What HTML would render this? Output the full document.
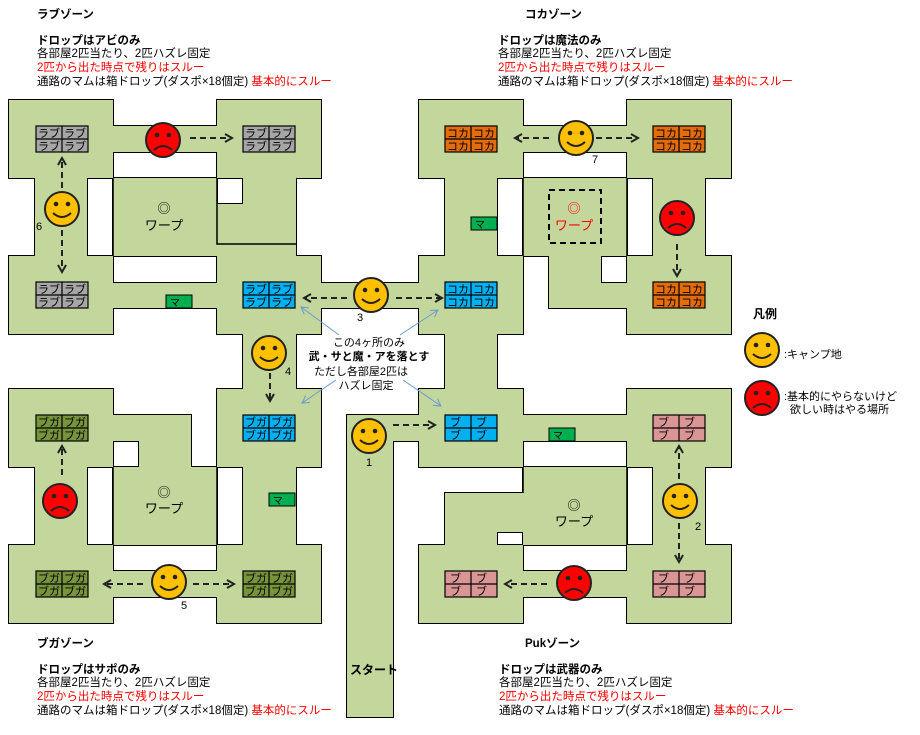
<!DOCTYPE html>
<html><head><meta charset="utf-8"><style>
body{margin:0;background:#fff;}
svg text{font-family:"Liberation Sans","Noto Sans CJK JP",sans-serif;}
</style></head><body>
<svg width="920" height="730" viewBox="0 0 920 730" xmlns="http://www.w3.org/2000/svg">
<defs>
<g id="happy"><circle r="17" fill="#ffc000" stroke="#222" stroke-width="2"/><circle cx="-6" cy="-5" r="2.3" fill="#222"/><circle cx="6" cy="-5" r="2.3" fill="#222"/><path d="M-9,4 Q0,12 9,4" fill="none" stroke="#222" stroke-width="2"/></g>
<g id="sad"><circle r="17" fill="#ff0000" stroke="#222" stroke-width="2"/><circle cx="-6" cy="-5" r="2.3" fill="#222"/><circle cx="6" cy="-5" r="2.3" fill="#222"/><path d="M-9,10 Q0,2 9,10" fill="none" stroke="#222" stroke-width="2"/></g>
<marker id="ah" markerWidth="10" markerHeight="10" refX="8" refY="5" orient="auto" markerUnits="userSpaceOnUse"><path d="M1,1 L8,5 L1,9" fill="none" stroke="#222" stroke-width="2"/></marker>
<marker id="bh" markerWidth="10" markerHeight="10" refX="8" refY="5" orient="auto" markerUnits="userSpaceOnUse"><path d="M1,1 L8,5 L1,9" fill="none" stroke="#6a9ad0" stroke-width="1"/></marker>
</defs>
<g id="rooms">
<g stroke="#000" stroke-width="2" fill="#c3d69b">
<rect x="9" y="100" width="104" height="78"/><rect x="113" y="126" width="104" height="26"/><rect x="217" y="100" width="104" height="78"/><rect x="35" y="178" width="52" height="78"/><rect x="9" y="256" width="104" height="78"/><rect x="113" y="178" width="104" height="78"/><rect x="243" y="178" width="53" height="26"/><rect x="217" y="204" width="79" height="52"/><rect x="113" y="283" width="104" height="25"/><rect x="217" y="256" width="104" height="78"/>
<rect x="243" y="334" width="53" height="55"/>
<rect x="9" y="389" width="104" height="78"/><rect x="113" y="415" width="78" height="26"/><rect x="139" y="441" width="52" height="26"/><rect x="35" y="467" width="52" height="78"/><rect x="113" y="467" width="104" height="78"/><rect x="217" y="389" width="104" height="78"/><rect x="243" y="467" width="53" height="78"/><rect x="217" y="545" width="104" height="78"/><rect x="9" y="545" width="104" height="78"/><rect x="113" y="571" width="104" height="26"/>
<rect x="347" y="415" width="72" height="26"/><rect x="347" y="415" width="46" height="302"/>
<rect x="419" y="100" width="104" height="78"/><rect x="523" y="126" width="104" height="26"/><rect x="627" y="100" width="104" height="78"/><rect x="445" y="178" width="52" height="78"/><rect x="523" y="178" width="104" height="78"/><rect x="653" y="178" width="52" height="78"/><rect x="419" y="256" width="104" height="78"/><rect x="549" y="256" width="52" height="52"/><rect x="549" y="283" width="78" height="25"/><rect x="627" y="256" width="104" height="78"/><rect x="321" y="283" width="98" height="25"/><rect x="445" y="334" width="52" height="55"/>
<rect x="419" y="389" width="104" height="78"/><rect x="523" y="415" width="104" height="26"/><rect x="627" y="389" width="104" height="78"/><rect x="653" y="467" width="52" height="78"/><rect x="523" y="467" width="104" height="26"/><rect x="445" y="493" width="182" height="39"/><rect x="445" y="532" width="52" height="13"/><rect x="523" y="532" width="104" height="13"/><rect x="419" y="545" width="104" height="78"/><rect x="523" y="571" width="104" height="26"/><rect x="627" y="545" width="104" height="78"/>
</g>
</g>
<g fill="#c3d69b">
<rect x="9" y="100" width="104" height="78"/><rect x="113" y="126" width="104" height="26"/><rect x="217" y="100" width="104" height="78"/><rect x="35" y="178" width="52" height="78"/><rect x="9" y="256" width="104" height="78"/><rect x="113" y="178" width="104" height="78"/><rect x="243" y="178" width="53" height="26"/><rect x="217" y="204" width="79" height="52"/><rect x="113" y="283" width="104" height="25"/><rect x="217" y="256" width="104" height="78"/>
<rect x="243" y="334" width="53" height="55"/>
<rect x="9" y="389" width="104" height="78"/><rect x="113" y="415" width="78" height="26"/><rect x="139" y="441" width="52" height="26"/><rect x="35" y="467" width="52" height="78"/><rect x="113" y="467" width="104" height="78"/><rect x="217" y="389" width="104" height="78"/><rect x="243" y="467" width="53" height="78"/><rect x="217" y="545" width="104" height="78"/><rect x="9" y="545" width="104" height="78"/><rect x="113" y="571" width="104" height="26"/>
<rect x="347" y="415" width="72" height="26"/><rect x="347" y="415" width="46" height="302"/>
<rect x="419" y="100" width="104" height="78"/><rect x="523" y="126" width="104" height="26"/><rect x="627" y="100" width="104" height="78"/><rect x="445" y="178" width="52" height="78"/><rect x="523" y="178" width="104" height="78"/><rect x="653" y="178" width="52" height="78"/><rect x="419" y="256" width="104" height="78"/><rect x="549" y="256" width="52" height="52"/><rect x="549" y="283" width="78" height="25"/><rect x="627" y="256" width="104" height="78"/><rect x="321" y="283" width="98" height="25"/><rect x="445" y="334" width="52" height="55"/>
<rect x="419" y="389" width="104" height="78"/><rect x="523" y="415" width="104" height="26"/><rect x="627" y="389" width="104" height="78"/><rect x="653" y="467" width="52" height="78"/><rect x="523" y="467" width="104" height="26"/><rect x="445" y="493" width="182" height="39"/><rect x="445" y="532" width="52" height="13"/><rect x="523" y="532" width="104" height="13"/><rect x="419" y="545" width="104" height="78"/><rect x="523" y="571" width="104" height="26"/><rect x="627" y="545" width="104" height="78"/>
</g>
<!-- interior lines -->
<g stroke="#000" stroke-width="1.5" fill="none">
<path d="M113,178V256M217,178V244H296M113,467V545M217,467V545M523,178V256M627,178V256M523,467V493M627,467V545"/>
</g>
<!-- boxes -->
<g stroke="#000" stroke-width="1.2" font-size="11">
<g fill="#a6a6a6"><rect x="36" y="126" width="52" height="26"/><rect x="243" y="126" width="52" height="26"/><rect x="36" y="282" width="52" height="26"/></g>
<g fill="#00b0f0"><rect x="243" y="282" width="52" height="26"/><rect x="445" y="282" width="52" height="26"/><rect x="243" y="415" width="52" height="26"/><rect x="445" y="415" width="52" height="26"/></g>
<g fill="#e46c0a"><rect x="445" y="126" width="52" height="26"/><rect x="653" y="126" width="52" height="26"/><rect x="653" y="282" width="52" height="26"/></g>
<g fill="#77933c"><rect x="36" y="415" width="52" height="26"/><rect x="36" y="571" width="52" height="26"/><rect x="243" y="571" width="52" height="26"/></g>
<g fill="#da9694"><rect x="653" y="415" width="52" height="26"/><rect x="445" y="571" width="52" height="26"/><rect x="653" y="571" width="52" height="26"/></g>
<path d="M62,126V152M36,139H88M269,126V152M243,139H295M62,282V308M36,295H88M269,282V308M243,295H295M471,282V308M445,295H497M269,415V441M243,428H295M471,415V441M445,428H497M471,126V152M445,139H497M679,126V152M653,139H705M679,282V308M653,295H705M62,415V441M36,428H88M62,571V597M36,584H88M269,571V597M243,584H295M679,415V441M653,428H705M471,571V597M445,584H497M679,571V597M653,584H705"/>
</g>
<g font-size="11" fill="#000">
<text x="38" y="137">ラブ</text><text x="64" y="137">ラブ</text><text x="38" y="150">ラブ</text><text x="64" y="150">ラブ</text>
<text x="245" y="137">ラブ</text><text x="271" y="137">ラブ</text><text x="245" y="150">ラブ</text><text x="271" y="150">ラブ</text>
<text x="38" y="293">ラブ</text><text x="64" y="293">ラブ</text><text x="38" y="306">ラブ</text><text x="64" y="306">ラブ</text>
<text x="245" y="293">ラブ</text><text x="271" y="293">ラブ</text><text x="245" y="306">ラブ</text><text x="271" y="306">ラブ</text>
<text x="447" y="137">コカ</text><text x="473" y="137">コカ</text><text x="447" y="150">コカ</text><text x="473" y="150">コカ</text>
<text x="655" y="137">コカ</text><text x="681" y="137">コカ</text><text x="655" y="150">コカ</text><text x="681" y="150">コカ</text>
<text x="655" y="293">コカ</text><text x="681" y="293">コカ</text><text x="655" y="306">コカ</text><text x="681" y="306">コカ</text>
<text x="447" y="293">コカ</text><text x="473" y="293">コカ</text><text x="447" y="306">コカ</text><text x="473" y="306">コカ</text>
<text x="38" y="426">ブガ</text><text x="64" y="426">ブガ</text><text x="38" y="439">ブガ</text><text x="64" y="439">ブガ</text>
<text x="38" y="582">ブガ</text><text x="64" y="582">ブガ</text><text x="38" y="595">ブガ</text><text x="64" y="595">ブガ</text>
<text x="245" y="582">ブガ</text><text x="271" y="582">ブガ</text><text x="245" y="595">ブガ</text><text x="271" y="595">ブガ</text>
<text x="245" y="426">ブガ</text><text x="271" y="426">ブガ</text><text x="245" y="439">ブガ</text><text x="271" y="439">ブガ</text>
<text x="450" y="426">ブ</text><text x="476" y="426">ブ</text><text x="450" y="439">ブ</text><text x="476" y="439">ブ</text>
<text x="658" y="426">ブ</text><text x="684" y="426">ブ</text><text x="658" y="439">ブ</text><text x="684" y="439">ブ</text>
<text x="450" y="582">ブ</text><text x="476" y="582">ブ</text><text x="450" y="595">ブ</text><text x="476" y="595">ブ</text>
<text x="658" y="582">ブ</text><text x="684" y="582">ブ</text><text x="658" y="595">ブ</text><text x="684" y="595">ブ</text>
</g>
<!-- ma boxes -->
<g fill="#00b050" stroke="#000" stroke-width="1"><rect x="166" y="295" width="26" height="13"/><rect x="471" y="217" width="26" height="13"/><rect x="269" y="493" width="26" height="13"/><rect x="549" y="428" width="26" height="13"/></g>
<g font-size="10"><text x="170" y="306">マ</text><text x="475" y="228">マ</text><text x="273" y="504">マ</text><text x="553" y="439">マ</text></g>
<!-- warp -->
<g font-size="13" text-anchor="middle">
<text x="164" y="213">◎</text><text x="164" y="230">ワープ</text>
<text x="164" y="497">◎</text><text x="164" y="513">ワープ</text>
<text x="574" y="510">◎</text><text x="574" y="526">ワープ</text>
<text x="574" y="213" fill="#f00">◎</text><text x="574" y="230" fill="#f00">ワープ</text>
</g>
<rect x="549" y="190" width="52" height="53" fill="none" stroke="#000" stroke-width="2" stroke-dasharray="6,4"/>
<!-- arrows -->
<g stroke="#222" stroke-width="2" stroke-dasharray="6,4" fill="none" marker-end="url(#ah)">
<line x1="190" y1="138" x2="232" y2="138"/>
<line x1="62" y1="188" x2="62" y2="158"/><line x1="62" y1="230" x2="62" y2="272"/>
<line x1="347" y1="298" x2="304" y2="298"/><line x1="396" y1="298" x2="442" y2="298"/>
<line x1="270" y1="373" x2="270" y2="401"/>
<line x1="549" y1="138" x2="515" y2="138"/><line x1="596" y1="138" x2="638" y2="138"/>
<line x1="677" y1="244" x2="677" y2="276"/>
<line x1="393" y1="425" x2="435" y2="425"/>
<line x1="62" y1="475" x2="62" y2="446"/>
<line x1="143" y1="584" x2="104" y2="584"/><line x1="193" y1="584" x2="234" y2="584"/>
<line x1="679" y1="479" x2="679" y2="446"/><line x1="679" y1="523" x2="679" y2="562"/>
<line x1="547" y1="584" x2="505" y2="584"/>
</g>
<g stroke="#6a9ad0" stroke-width="1" fill="none" marker-end="url(#bh)">
<line x1="339" y1="335" x2="301" y2="307"/><line x1="400" y1="335" x2="438" y2="310"/>
<line x1="336" y1="380" x2="302" y2="403"/><line x1="403" y1="380" x2="441" y2="406"/>
</g>
<!-- smileys -->
<use href="#sad" x="163" y="140"/><use href="#happy" x="62" y="209"/><use href="#happy" x="371" y="295"/><use href="#happy" x="269" y="353"/>
<use href="#happy" x="576" y="138"/><use href="#sad" x="677" y="218"/><use href="#happy" x="369" y="436"/><use href="#sad" x="60" y="501"/>
<use href="#happy" x="169" y="582"/><use href="#happy" x="680" y="501"/><use href="#sad" x="574" y="583"/>
<use href="#happy" x="762" y="350"/><use href="#sad" x="762" y="398"/>
<g font-size="11"><text x="36" y="230">6</text><text x="357" y="321">3</text><text x="285" y="375">4</text><text x="592" y="163">7</text><text x="366" y="466">1</text><text x="181" y="609">5</text><text x="695" y="530">2</text></g>
<!-- center note -->
<g font-size="11" text-anchor="middle">
<text x="369" y="346">この4ヶ所のみ</text>
<text x="369" y="360" font-weight="bold">武・サと魔・アを落とす</text>
<text x="361" y="375">ただし各部屋2匹は</text>
<text x="366" y="389">ハズレ固定</text>
</g>
<text x="350" y="674" font-size="12" font-weight="bold">スタート</text>
<!-- legend -->
<text x="753" y="318" font-size="12" font-weight="bold">凡例</text>
<text x="784" y="358" font-size="11">:キャンプ地</text>
<text x="784" y="400" font-size="11">:基本的にやらないけど</text>
<text x="790" y="413" font-size="11">欲しい時はやる場所</text>
<!-- zone texts -->
<g font-size="11.5">
<text x="37" y="18" font-weight="bold">ラブゾーン</text>
<text x="37" y="44" font-weight="bold">ドロップはアビのみ</text>
<text x="37" y="57">各部屋2匹当たり、2匹ハズレ固定</text>
<text x="37" y="71" fill="#f00">2匹から出た時点で残りはスルー</text>
<text x="37" y="85">通路のマムは箱ドロップ(ダスポ×18個定) <tspan fill="#f00">基本的にスルー</tspan></text>
<text x="525" y="18" font-weight="bold">コカゾーン</text>
<text x="498" y="44" font-weight="bold">ドロップは魔法のみ</text>
<text x="498" y="57">各部屋2匹当たり、2匹ハズレ固定</text>
<text x="498" y="71" fill="#f00">2匹から出た時点で残りはスルー</text>
<text x="498" y="85">通路のマムは箱ドロップ(ダスポ×18個定) <tspan fill="#f00">基本的にスルー</tspan></text>
<text x="37" y="647" font-weight="bold">ブガゾーン</text>
<text x="37" y="673" font-weight="bold">ドロップはサポのみ</text>
<text x="37" y="686">各部屋2匹当たり、2匹ハズレ固定</text>
<text x="37" y="700" fill="#f00">2匹から出た時点で残りはスルー</text>
<text x="37" y="714">通路のマムは箱ドロップ(ダスポ×18個定) <tspan fill="#f00">基本的にスルー</tspan></text>
<text x="525" y="647" font-weight="bold">Pukゾーン</text>
<text x="499" y="673" font-weight="bold">ドロップは武器のみ</text>
<text x="499" y="686">各部屋2匹当たり、2匹ハズレ固定</text>
<text x="499" y="700" fill="#f00">2匹から出た時点で残りはスルー</text>
<text x="499" y="714">通路のマムは箱ドロップ(ダスポ×18個定) <tspan fill="#f00">基本的にスルー</tspan></text>
</g>
</svg>
</body></html>
